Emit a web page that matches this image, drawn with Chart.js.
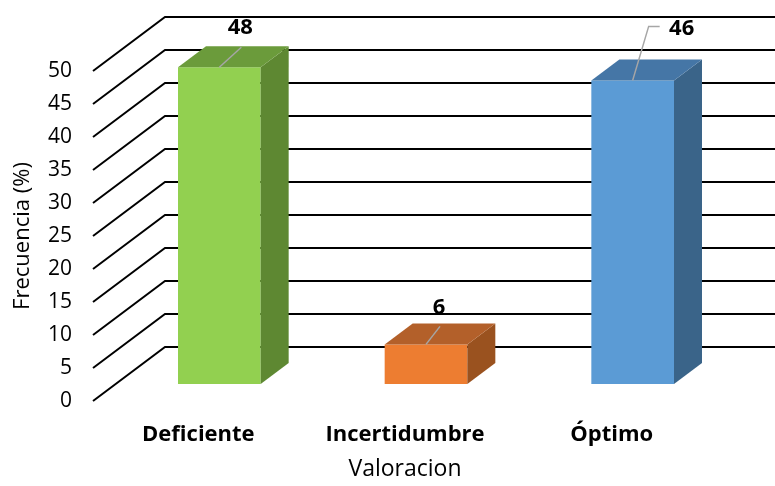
<!DOCTYPE html>
<html>
<head>
<meta charset="utf-8">
<script src="https://cdn.jsdelivr.net/npm/chart.js@4/dist/chart.umd.min.js"></script>
<style>
  html, body { margin: 0; padding: 0; background: #ffffff; }
  #wrap { width: 775px; height: 486px; }
</style>
</head>
<body>
<div id="wrap"><canvas id="c" width="775" height="486"></canvas></div>
<script>
// ---- data ----
const categories = ['Deficiente', 'Incertidumbre', 'Óptimo'];
const values = [48, 6, 46];
const valueLabels = ['48', '6', '46'];
const yTickValues = [0, 5, 10, 15, 20, 25, 30, 35, 40, 45, 50];
const yAxisTitle = 'Frecuencia (%)';
const xAxisTitle = 'Valoracion';

// ---- style ----
const frontColors = ['#92D050', '#ED7D31', '#5B9BD5'];
const topColors = ['#6B9B3B', '#B3602A', '#4576A6'];
const sideColors = ['#5E8832', '#9A521F', '#3A6489'];
const FONT = '"Open Sans", "Liberation Sans", sans-serif';
const WALL = { dx: 72, dy: -54 };       // floor depth projection
const BAR_SHIFT = { dx: 21, dy: -17 };  // bar front face position in depth
const BAR_DEPTH = { dx: 28, dy: -21 };  // bar depth projection
// label leader geometry relative to the bar's front-top centre
const labelStyle = [
  { leader: [[0, 0], [22, -20]], text: [21, -39] },
  { leader: [[0, 0], [14, -18]], text: [13, -37] },
  { leader: [[0, 0], [16, -54], [27, -54]], text: [49, -52] }
];

const threeD = {
  id: 'threeD',
  beforeDatasetsDraw(chart) {
    const { ctx, chartArea, scales } = chart;
    const y = scales.y;
    ctx.save();
    ctx.strokeStyle = '#000000';
    ctx.lineWidth = 2;
    const x0 = chartArea.left - 2;
    yTickValues.forEach(v => {
      const py = Math.round(y.getPixelForValue(v));
      ctx.beginPath();
      ctx.moveTo(x0, py);
      ctx.lineTo(x0 + WALL.dx, py + WALL.dy);
      ctx.lineTo(chart.width + 5, py + WALL.dy);
      ctx.stroke();
    });
    ctx.restore();
    ctx.save();
    ctx.translate(BAR_SHIFT.dx, BAR_SHIFT.dy);
  },
  afterDatasetsDraw(chart) {
    const { ctx } = chart;
    ctx.restore();
    const meta = chart.getDatasetMeta(0);
    meta.data.forEach((bar, i) => {
      const p = bar.getProps(['x', 'y', 'base', 'width'], true);
      const xl = p.x - p.width / 2 + BAR_SHIFT.dx;
      const xr = p.x + p.width / 2 + BAR_SHIFT.dx;
      const yt = p.y + BAR_SHIFT.dy;
      const yb = p.base + BAR_SHIFT.dy;
      // side face
      ctx.beginPath();
      ctx.moveTo(xr, yt);
      ctx.lineTo(xr + BAR_DEPTH.dx, yt + BAR_DEPTH.dy);
      ctx.lineTo(xr + BAR_DEPTH.dx, yb + BAR_DEPTH.dy);
      ctx.lineTo(xr, yb);
      ctx.closePath();
      ctx.fillStyle = sideColors[i];
      ctx.fill();
      // top face
      ctx.beginPath();
      ctx.moveTo(xl, yt);
      ctx.lineTo(xl + BAR_DEPTH.dx, yt + BAR_DEPTH.dy);
      ctx.lineTo(xr + BAR_DEPTH.dx, yt + BAR_DEPTH.dy);
      ctx.lineTo(xr, yt);
      ctx.closePath();
      ctx.fillStyle = topColors[i];
      ctx.fill();
      // leader + label
      const sx = p.x + BAR_SHIFT.dx, sy = yt;
      const ls = labelStyle[i];
      ctx.save();
      ctx.strokeStyle = '#A6A6A6';
      ctx.lineWidth = 1.5;
      ctx.beginPath();
      ls.leader.forEach((pt, k) => {
        if (k === 0) ctx.moveTo(sx + pt[0], sy + pt[1]);
        else ctx.lineTo(sx + pt[0], sy + pt[1]);
      });
      ctx.stroke();
      ctx.fillStyle = '#000000';
      ctx.font = 'bold 22px ' + FONT;
      ctx.textAlign = 'center';
      ctx.textBaseline = 'middle';
      ctx.fillText(valueLabels[i], sx + ls.text[0], sy + ls.text[1]);
      ctx.restore();
    });
  }
};

new Chart(document.getElementById('c'), {
  type: 'bar',
  data: {
    labels: categories,
    datasets: [{
      data: values,
      backgroundColor: frontColors,
      borderWidth: 0,
      categoryPercentage: 0.8,
      barPercentage: 0.5,
      clip: false
    }]
  },
  options: {
    responsive: false,
    animation: false,
    events: [],
    layout: { padding: { top: 71, right: 60, bottom: 0, left: 0 } },
    plugins: { legend: { display: false }, tooltip: { enabled: false } },
    scales: {
      x: {
        grid: { display: false, drawTicks: false },
        border: { display: false },
        ticks: { color: '#000', font: { family: FONT, size: 22, weight: 'bold' }, padding: 21, maxRotation: 0 },
        title: { display: true, text: xAxisTitle, color: '#000', font: { family: FONT, size: 23 }, padding: { top: 0, bottom: 3 } },
        afterFit(s) { s.height = 85; }
      },
      y: {
        min: 0, max: 50,
        grid: { display: false, drawTicks: false },
        border: { display: false },
        ticks: { stepSize: 5, color: '#000', font: { family: FONT, size: 21 }, padding: 23 },
        title: { display: true, text: yAxisTitle, color: '#000', font: { family: FONT, size: 22 }, padding: { top: 10, bottom: 0 } },
        afterFit(s) { s.width = 95; }
      }
    }
  },
  plugins: [threeD]
});
</script>
</body>
</html>
